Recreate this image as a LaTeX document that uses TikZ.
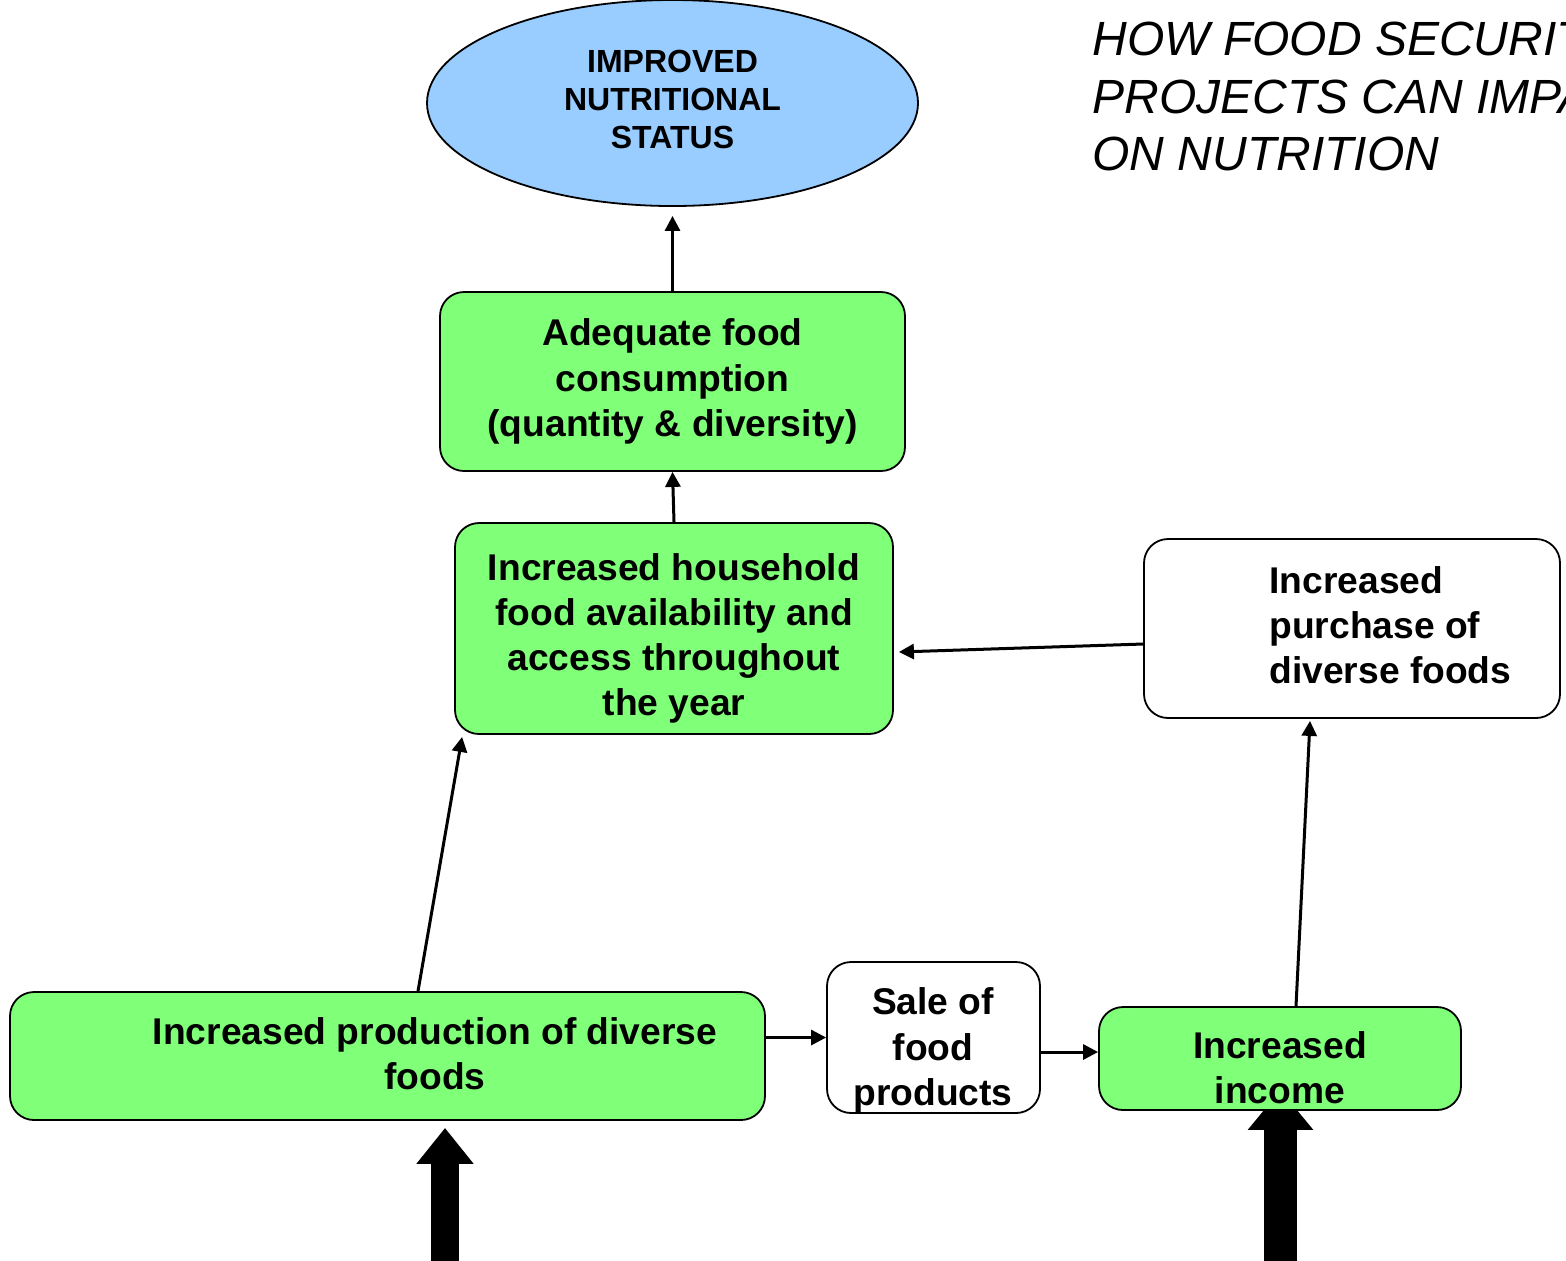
\documentclass[tikz,border=0pt]{standalone}
\usepackage{fontspec}
\setmainfont{Liberation Sans}
\usetikzlibrary{positioning,arrows.meta,shapes.geometric,backgrounds}

\definecolor{boxgreen}{HTML}{80FF78}
\definecolor{goalblue}{HTML}{99CCFF}

\begin{document}
\begin{tikzpicture}[x=0.5pt, y=-0.5pt,
    box/.style={draw, rounded corners=12pt, line width=0.9pt, inner sep=0pt},
    greenbox/.style={box, fill=boxgreen},
    whitebox/.style={box, fill=white},
    boxtext/.style={align=center, inner sep=0pt, font=\bfseries\fontsize{18.6}{22.6}\selectfont},
    link/.style={line width=1.5pt, -{Triangle[length=7.5pt,width=7.5pt]}},
    bigarrow/.style={-{Triangle[length=18pt,width=27.5pt]}}]
    \useasboundingbox (0,0) rectangle (1566,1260);
    \clip (0,0) rectangle (1566,1260);

    % goal and the chain above it
    \node[ellipse, draw, fill=goalblue, line width=0.9pt, inner sep=0pt,
          minimum width=245.5pt, minimum height=103pt] (goal) at (672.5,103) {};
    \node[align=center, inner sep=0pt, font=\bfseries\fontsize{16}{19}\selectfont] (goaltext) at (672.5,99)
        {IMPROVED\\NUTRITIONAL\\STATUS};
    \node[greenbox, boxtext, minimum width=232.5pt, minimum height=89.5pt] (consume) at (672.5,381.5)
        {Adequate food\\consumption\\(quantity \& diversity)};
    \node[greenbox, minimum width=219pt, minimum height=105.5pt] (household) at (674,628.5) {};
    \node[boxtext] (householdtext) at (674,638.5)
        {Increased household\\food availability and\\access throughout\\the year};
    \node[whitebox, minimum width=208pt, minimum height=89.5pt] (purchase) at (1352,628.5) {};
    \node[boxtext, align=left, anchor=west] (purchasetext) at (1269,625)
        {Increased\\purchase of\\diverse foods};

    % bottom row
    \node[greenbox, minimum width=377.5pt, minimum height=64pt] (prod) at (387.5,1056) {};
    \node[boxtext] (prodtext) at (435,1053.5) {Increased production of diverse\\foods};
    \node[whitebox, minimum width=106.5pt, minimum height=75.5pt] (sale) at (933.5,1037.5) {};
    \node[boxtext] (saletext) at (933,1050.5) {Sale of\\food\\products};
    \node[greenbox, minimum width=181pt, minimum height=51.5pt] (income) at (1280,1058.5) {};
    \node[boxtext] (incometext) at (1280,1067.5) {Increased\\income};

    % title
    \node[anchor=north west, align=left, inner sep=0pt,
          font=\itshape\fontsize{24}{28.75}\selectfont] (title) at (1092,22)
        {HOW FOOD SECURITY\\PROJECTS CAN IMPACT\\ON NUTRITION};

    % links
    \draw[link, shorten >=4.5pt] (consume.north) -- (goal.south);
    \draw[link] (household.north) -- (consume.south);
    \draw[link] ([yshift=-7.75pt]purchase.west) -- ([xshift=2.5pt,yshift=-11.75pt]household.east);
    \draw[link] ([xshift=15.25pt]prod.north) -- ([xshift=4pt,yshift=-1pt]household.south west);
    \draw[link] ([xshift=8pt]income.north) -- ([xshift=-21pt,yshift=-1pt]purchase.south);
    \draw[link] (prod.east |- sale.west) -- (sale.west);
    \draw[link] ([yshift=-7.25pt]sale.east) -- ([yshift=3.25pt]income.west);

    % inputs from below
    \coordinate (prodfeed) at (445,1262);
    \coordinate (incomefeed) at (1280.5,1262);
    \draw[bigarrow, line width=14pt] (prodfeed) -- ([xshift=28.75pt,yshift=-3.5pt]prod.south);
    \begin{scope}[on background layer]
      \draw[line width=16.5pt, -{Triangle[length=20pt,width=31.5pt]}] (incomefeed) -- ([xshift=0.25pt,yshift=10.5pt]income.south);
    \end{scope}
\end{tikzpicture}
\end{document}
